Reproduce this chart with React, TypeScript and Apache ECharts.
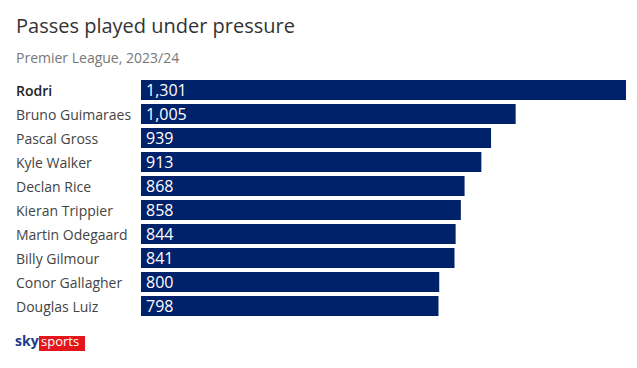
import React, { useEffect, useRef } from "react";
import * as echarts from "echarts";

const players = [
  "Rodri",
  "Bruno Guimaraes",
  "Pascal Gross",
  "Kyle Walker",
  "Declan Rice",
  "Kieran Trippier",
  "Martin Odegaard",
  "Billy Gilmour",
  "Conor Gallagher",
  "Douglas Luiz",
];
const passes = [1301, 1005, 939, 913, 868, 858, 844, 841, 800, 798];

const FONT = "'Open Sans', 'Noto Sans', sans-serif";

export default function App() {
  const ref = useRef<HTMLDivElement>(null);
  useEffect(() => {
    if (!ref.current) return;
    const chart = echarts.init(ref.current, undefined, { renderer: "svg" });
    chart.setOption({
      animation: false,
      backgroundColor: "#ffffff",
      textStyle: { fontFamily: FONT },
      grid: { left: 141, right: 11, top: 78, bottom: 50, containLabel: false },
      xAxis: {
        type: "value",
        min: 0,
        max: 1301,
        show: false,
      },
      yAxis: {
        type: "category",
        inverse: true,
        data: players,
        axisLine: { show: false },
        axisTick: { show: false },
        splitLine: { show: false },
        axisLabel: {
          align: "left",
          margin: 125,
          fontSize: 14,
          color: "#444444",
          fontFamily: FONT,
          formatter: (v: string) => (v === "Rodri" ? `{b|${v}}` : v),
          rich: {
            b: { fontSize: 14, fontWeight: 600, color: "#222222", fontFamily: FONT },
          },
        },
      },
      series: [
        {
          type: "bar",
          data: passes,
          barCategoryGap: "16.7%",
          itemStyle: { color: "#00226b" },
          label: {
            show: true,
            position: "insideLeft",
            distance: 5,
            color: "#ffffff",
            fontSize: 16,
            fontFamily: FONT,
            formatter: (p: any) => p.value.toLocaleString("en-US"),
          },
        },
      ],
      graphic: [
        {
          type: "text",
          left: 16,
          top: 15,
          style: {
            text: "Passes played under pressure",
            fontSize: 20,
            fill: "#333333",
            fontFamily: FONT,
          },
        },
        {
          type: "text",
          left: 16,
          top: 50,
          style: {
            text: "Premier League, 2023/24",
            fontSize: 14,
            fill: "#777777",
            fontFamily: FONT,
          },
        },
        {
          type: "text",
          left: 15,
          top: 333,
          style: {
            text: "sky",
            fontSize: 14,
            fontWeight: "bold",
            fill: "#1b3a8c",
            fontFamily: FONT,
          },
        },
        {
          type: "rect",
          shape: { x: 39, y: 336, width: 46, height: 15 },
          style: { fill: "#e4161b" },
        },
        {
          type: "text",
          left: 41,
          top: 334,
          style: {
            text: "sports",
            fontSize: 13,
            fill: "#ffffff",
            fontFamily: FONT,
          },
        },
      ],
    });
    return () => chart.dispose();
  }, []);
  return (
    <div
      ref={ref}
      style={{ position: "fixed", left: 0, top: 0, width: 637, height: 368 }}
    />
  );
}
